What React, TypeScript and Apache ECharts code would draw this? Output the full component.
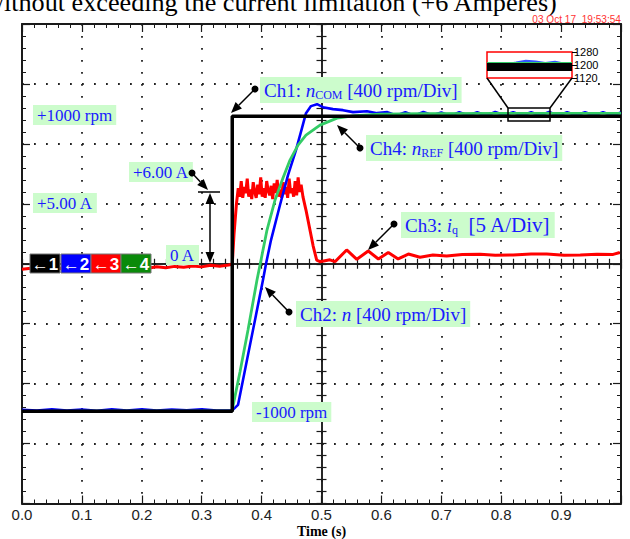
import React, { useEffect, useRef } from "react";
import * as echarts from "echarts";

// ---------- data ----------
const timeLabels = ["0.0", "0.1", "0.2", "0.3", "0.4", "0.5", "0.6", "0.7", "0.8", "0.9"];
const insetTickValues = [1120, 1200, 1280];

// Ch1: commanded speed n_COM (rpm)
const speedCmd: [number, number][] = [
  [0, -985], [0.351, -985], [0.351, 985], [1.0, 985],
];

// Ch4: reference speed n_REF (rpm)
const speedRef: [number, number][] = [
  [0, -985], [0.3506, -982], [0.3639, -722], [0.3773, -442], [0.3923, -108], [0.4007, 58],
  [0.409, 225], [0.4224, 425], [0.4357, 572], [0.4474, 692], [0.4608, 792], [0.4741, 858],
  [0.4975, 925], [0.5259, 972], [0.5559, 988], [0.5977, 998], [0.6644, 1002], [0.798, 1003], [1.0, 1003],
];

// Ch2: measured speed n (rpm)
const speedN: [number, number][] = [
  [0, -974], [0.025, -980], [0.05, -971], [0.075, -979], [0.1, -973], [0.125, -981], [0.15, -972],
  [0.175, -979], [0.2, -971], [0.225, -980], [0.25, -973], [0.275, -978], [0.3, -971], [0.325, -979],
  [0.3506, -980], [0.3606, -942], [0.3756, -642], [0.389, -375], [0.4023, -108], [0.4073, -2],
  [0.4157, 158], [0.4307, 392], [0.4441, 592], [0.4574, 758], [0.4674, 905], [0.4741, 1005],
  [0.4825, 1052], [0.4925, 1065], [0.5025, 1045], [0.5192, 1032], [0.5359, 1025], [0.5526, 1012],
  [0.576, 1018], [0.5927, 1005], [0.61, 1012], [0.625, 990], [0.64, 1011], [0.655, 988], [0.67, 1013],
  [0.685, 991], [0.7, 1010], [0.715, 987], [0.73, 1012], [0.745, 990], [0.76, 1011], [0.775, 988],
  [0.79, 1013], [0.805, 991], [0.82, 1012], [0.835, 989], [0.85, 1011], [0.865, 990], [0.88, 1013],
  [0.895, 988], [0.91, 1012], [0.925, 991], [0.94, 1011], [0.955, 989], [0.97, 1012], [0.985, 990], [1.0, 1010],
];

// Ch3: quadrature current i_q (A)
const currentIq: [number, number][] = [
  [0, -0.45], [0.015, -0.38], [0.03, -0.5], [0.045, -0.42], [0.06, -0.35], [0.075, -0.48], [0.09, -0.4],
  [0.105, -0.52], [0.12, -0.45], [0.135, -0.38], [0.15, -0.55], [0.165, -0.47], [0.18, -0.4], [0.195, -0.3],
  [0.21, -0.38], [0.225, -0.25], [0.24, -0.33], [0.255, -0.22], [0.27, -0.3], [0.285, -0.18], [0.3, -0.26],
  [0.315, -0.12], [0.33, -0.2], [0.345, -0.1], [0.351, -0.05], [0.354, 2.5], [0.358, 5.0],
  [0.361, 6.3], [0.3635, 5.6], [0.366, 6.9], [0.3685, 5.5], [0.371, 6.4], [0.3735, 5.9], [0.376, 7.1],
  [0.3785, 5.6], [0.381, 6.2], [0.3835, 5.4], [0.386, 6.8], [0.3885, 6.0], [0.391, 5.5], [0.3935, 6.6],
  [0.396, 5.8], [0.3985, 7.2], [0.401, 5.6], [0.4035, 6.3], [0.406, 5.5], [0.4085, 6.9], [0.411, 6.1],
  [0.4135, 5.7], [0.416, 6.5], [0.4185, 5.4], [0.421, 6.7], [0.4235, 5.9], [0.426, 7.0], [0.4285, 5.6],
  [0.431, 6.2], [0.4335, 5.5], [0.436, 6.8], [0.4385, 5.8], [0.441, 6.4], [0.4435, 5.5], [0.446, 7.1],
  [0.4485, 5.9], [0.451, 6.3], [0.4535, 5.6], [0.456, 6.9], [0.4585, 5.7], [0.461, 7.2], [0.4635, 6.0],
  [0.466, 6.6], [0.469, 5.6], [0.474, 4.5], [0.48, 3.0], [0.486, 1.5], [0.492, 0.3], [0.4975, 0.17],
  [0.514, 0.33], [0.5225, 0.17], [0.542, 1.15], [0.559, 0.37], [0.578, 1.06], [0.595, 0.4], [0.6115, 0.94],
  [0.628, 0.4], [0.645, 0.81], [0.6645, 0.54], [0.686, 0.73], [0.709, 0.65], [0.735, 0.78], [0.765, 0.8],
  [0.79, 0.7], [0.82, 0.73], [0.85, 0.82], [0.876, 0.81], [0.905, 0.7], [0.932, 0.73], [0.96, 0.8],
  [0.987, 0.78], [0.998, 0.94],
];

// Zoomed inset (rpm)
const insetCmd: [number, number][] = [[0.81, 1188], [0.88, 1188]];
const insetRef: [number, number][] = [[0.81, 1212], [0.88, 1212]];
const insetN: [number, number][] = [
  [0.81, 1200], [0.818, 1210], [0.826, 1205], [0.834, 1215], [0.842, 1226], [0.85, 1222],
  [0.858, 1212], [0.866, 1220], [0.874, 1208], [0.88, 1204],
];

// ---------- styles ----------
const SERIF = "'Liberation Serif', 'Times New Roman', serif";
const SANS = "'Liberation Sans', Arial, sans-serif";
const BLUE_TXT = "#1a1aff";
const BG = "#ccfccc";
const FRAME = "#1a1a1a";

function arrow(x1: number, y1: number, x2: number, y2: number, dot = true): any[] {
  const dx = x2 - x1, dy = y2 - y1;
  const L = Math.hypot(dx, dy);
  const ux = dx / L, uy = dy / L;
  const hl = 11, hw = 4.5;
  const bx = x2 - ux * hl, by = y2 - uy * hl;
  const out: any[] = [];
  if (dot) out.push({ type: "circle", z: 100, shape: { cx: x1, cy: y1, r: 3.5 }, style: { fill: "#000" } });
  out.push({ type: "line", z: 100, shape: { x1, y1, x2: bx, y2: by }, style: { stroke: "#000", lineWidth: 1.5 } });
  out.push({
    type: "polygon", z: 100,
    shape: { points: [[x2, y2], [bx - uy * hw, by + ux * hw], [bx + uy * hw, by - ux * hw]] },
    style: { fill: "#000" },
  });
  return out;
}

function plainLabel(x: number, y: number, text: string, size = 17): any {
  return {
    type: "text", x, y, z: 100,
    style: {
      text, fontSize: size, fontFamily: SERIF, fill: BLUE_TXT,
      backgroundColor: BG, padding: [2, 4, 1, 4],
    },
  };
}

function richLabel(x: number, y: number, text: string): any {
  const base = { fontSize: 19, fontFamily: SERIF, fill: BLUE_TXT, color: BLUE_TXT, lineHeight: 22 };
  return {
    type: "text", x, y, z: 100,
    style: {
      text,
      rich: {
        a: { ...base },
        b: { ...base, fontSize: 21 },
        i: { ...base, fontStyle: "italic" },
        s: { fontSize: 12, fontFamily: SERIF, fill: BLUE_TXT, color: BLUE_TXT, lineHeight: 8, verticalAlign: "bottom" },
      },
      backgroundColor: BG, padding: [2, 4, 2, 4],
    },
  };
}

function chanBox(x: number, color: string, num: string): any[] {
  return [
    { type: "rect", z: 100, shape: { x, y: 254, width: 30, height: 19 }, style: { fill: color, stroke: "#777", lineWidth: 1 } },
    {
      type: "text", z: 101, x: x + 15, y: 264,
      style: {
        text: "\u2190" + num, fontSize: 17, fontWeight: "bold", fontFamily: SANS, fill: "#fff",
        align: "center", textAlign: "center", verticalAlign: "middle", textVerticalAlign: "middle",
      },
    },
  ];
}

function frameX(position: string, extra: any = {}): any {
  return {
    type: "value", gridIndex: 0, min: 0, max: 1, interval: 0.1, position,
    axisLine: { show: true, onZero: false, lineStyle: { color: FRAME, width: 2 } },
    axisTick: { show: true, inside: true, length: 8, lineStyle: { color: FRAME, width: 1.2 } },
    minorTick: { show: true, splitNumber: 5, length: 4, lineStyle: { color: FRAME, width: 1 } },
    axisLabel: { show: false }, splitLine: { show: false },
    ...extra,
  };
}

function frameY(position: string, extra: any = {}): any {
  return {
    type: "value", gridIndex: 0, min: -1600, max: 1600, interval: 400, position,
    axisLine: { show: true, onZero: false, lineStyle: { color: FRAME, width: 2 } },
    axisTick: { show: true, inside: true, length: 8, lineStyle: { color: FRAME, width: 1.2 } },
    minorTick: { show: true, splitNumber: 5, length: 4, lineStyle: { color: FRAME, width: 1 } },
    axisLabel: { show: false }, splitLine: { show: false },
    ...extra,
  };
}

const dotted = { show: true, lineStyle: { color: "#222", width: 1.8, type: [1.8, 10.2] } };

function buildOption(): any {
  const centerTick = (inside: boolean) => ({
    axisLine: { show: true, onZero: true, lineStyle: { color: FRAME, width: 1.5 } },
    axisTick: { show: true, inside, length: 5, lineStyle: { color: FRAME, width: 1.2 } },
    minorTick: { show: true, splitNumber: 5, length: 5, lineStyle: { color: FRAME, width: 1.2 } },
  });
  const centerTickY = (inside: boolean) => ({
    offset: -299.5,
    axisLine: { show: true, onZero: false, lineStyle: { color: FRAME, width: 1.5 } },
    axisTick: { show: true, inside, length: 5, lineStyle: { color: FRAME, width: 1.2 } },
    minorTick: { show: true, splitNumber: 5, length: 5, lineStyle: { color: FRAME, width: 1.2 } },
  });

  const graphic: any[] = [
    {
      type: "text", x: -15, y: 15, z: 100,
      style: {
        text: "without exceeding the current limitation (+6 Amperes)", fontSize: 26.2, fontFamily: SERIF,
        fill: "#000", verticalAlign: "bottom", textVerticalAlign: "bottom",
      },
    },
    {
      type: "text", x: 621, y: 19, z: 100, scaleX: 0.92,
      style: {
        text: "03 Oct 17  19:53:54", fontSize: 11, fontFamily: SANS,
        fill: "#ff3333", align: "right", textAlign: "right", verticalAlign: "middle", textVerticalAlign: "middle",
      },
    },
    {
      type: "text", x: 321.5, y: 531, z: 100,
      style: {
        text: "Time (s)", fontSize: 14, fontWeight: "bold", fontFamily: SERIF, fill: "#000",
        align: "center", textAlign: "center", verticalAlign: "middle", textVerticalAlign: "middle",
      },
    },
    // inset funnel
    { type: "line", z: 20, shape: { x1: 487, y1: 78, x2: 508, y2: 108 }, style: { stroke: "#000", lineWidth: 1.5 } },
    { type: "line", z: 20, shape: { x1: 572, y1: 78, x2: 550, y2: 108 }, style: { stroke: "#000", lineWidth: 1.5 } },
    { type: "rect", z: 20, shape: { x: 508, y: 108, width: 42, height: 13 }, style: { fill: "none", stroke: "#000", lineWidth: 1.5 } },
    // labels
    plainLabel(33, 105, "+1000 rpm"),
    plainLabel(33, 193, "+5.00 A"),
    plainLabel(129, 162, "+6.00 A"),
    plainLabel(166, 245, "0 A"),
    plainLabel(252, 402, "-1000 rpm"),
    richLabel(260, 77, "{a|Ch1: }{i|n}{s|COM}{a| [400 rpm/Div]}"),
    richLabel(366, 135, "{a|Ch4: }{i|n}{s|REF}{a| [400 rpm/Div]}"),
    richLabel(401, 212, "{a|Ch3: }{i|i}{s|q}{b|  [5 A/Div]}"),
    richLabel(296, 301, "{a|Ch2: }{i|n}{a| [400 rpm/Div]}"),
    // arrows
    ...arrow(255, 89, 231, 113),
    ...arrow(360, 148, 337, 125),
    ...arrow(394, 224, 368, 250),
    ...arrow(289, 312, 265, 287),
    ...arrow(192, 173, 208, 190),
    // dimension arrow 0 A -> +6 A
    { type: "line", z: 100, shape: { x1: 198, y1: 192, x2: 220, y2: 192 }, style: { stroke: "#000", lineWidth: 1.5 } },
    ...arrow(210, 228, 210, 193, false),
    ...arrow(210, 228, 210, 263, false),
    // channel markers
    ...chanBox(30, "#000000", "1"),
    ...chanBox(61, "#0000ff", "2"),
    ...chanBox(91, "#ff0000", "3"),
    ...chanBox(121, "#0a8a0a", "4"),
  ];

  return {
    animation: false,
    backgroundColor: "#fff",
    grid: [
      { left: 22, right: 9, top: 24, bottom: 35.5, show: false },
      { left: 487, top: 52, width: 85, height: 26, show: true, borderColor: "#ff0000", borderWidth: 1.5, backgroundColor: "#fff", z: 3 },
    ],
    xAxis: [
      frameX("bottom", {
        axisLabel: {
          show: true, margin: 3, fontSize: 15, fontFamily: SANS, color: "#222",
          formatter: (v: number) => {
            const i = Math.round(v * 10);
            return i < timeLabels.length ? timeLabels[i] : "";
          },
        },
        splitLine: dotted,
      }),
      frameX("top"),
      frameX("bottom", centerTick(true)),
      frameX("bottom", centerTick(false)),
      { type: "value", gridIndex: 1, min: 0.81, max: 0.88, show: false },
    ],
    yAxis: [
      frameY("left", { splitLine: dotted }),
      frameY("right"),
      frameY("left", centerTickY(true)),
      frameY("left", centerTickY(false)),
      { type: "value", gridIndex: 0, min: -20, max: 20, show: false, axisLine: { onZero: false } },
      {
        type: "value", gridIndex: 1, position: "right", z: 4,
        min: insetTickValues[0], max: insetTickValues[insetTickValues.length - 1], interval: 80,
        axisLine: { show: false, onZero: false },
        axisTick: { show: true, length: 5, lineStyle: { color: "#000", width: 1 } },
        axisLabel: { show: true, margin: 2, fontSize: 11, fontFamily: SANS, color: "#000", formatter: (v: number) => String(v) },
        splitLine: { show: false },
      },
    ],
    graphic,
    series: [
      {
        name: "Ch3 iq", type: "line", xAxisIndex: 0, yAxisIndex: 4, data: currentIq, showSymbol: false,
        lineStyle: { color: "#ff0000", width: 3 }, z: 2,
      },
      {
        name: "Ch2 n", type: "line", xAxisIndex: 0, yAxisIndex: 0, data: speedN, showSymbol: false,
        lineStyle: { color: "#0000ff", width: 2.6 }, z: 3,
      },
      {
        name: "Ch4 nREF", type: "line", xAxisIndex: 0, yAxisIndex: 0, data: speedRef, showSymbol: false,
        lineStyle: { color: "#33cc66", width: 2.8 }, z: 4,
      },
      {
        name: "Ch1 nCOM", type: "line", xAxisIndex: 0, yAxisIndex: 0, data: speedCmd, showSymbol: false,
        lineStyle: { color: "#000000", width: 3.5 }, z: 5,
      },
      {
        name: "inset n", type: "line", xAxisIndex: 4, yAxisIndex: 5, data: insetN, showSymbol: false,
        lineStyle: { color: "#3355ff", width: 2 }, z: 10,
      },
      {
        name: "inset nREF", type: "line", xAxisIndex: 4, yAxisIndex: 5, data: insetRef, showSymbol: false,
        lineStyle: { color: "#33cc66", width: 2 }, z: 11,
      },
      {
        name: "inset nCOM", type: "line", xAxisIndex: 4, yAxisIndex: 5, data: insetCmd, showSymbol: false,
        lineStyle: { color: "#000000", width: 8 }, z: 12,
      },
    ],
  };
}

export default function App() {
  const ref = useRef<HTMLDivElement>(null);
  useEffect(() => {
    if (!ref.current) return;
    const chart = echarts.init(ref.current, null, { renderer: "svg" });
    chart.setOption(buildOption());
    return () => chart.dispose();
  }, []);
  return (
    <div
      ref={ref}
      style={{ position: "fixed", left: 0, top: 0, width: 630, height: 539, background: "#fff" }}
    />
  );
}
